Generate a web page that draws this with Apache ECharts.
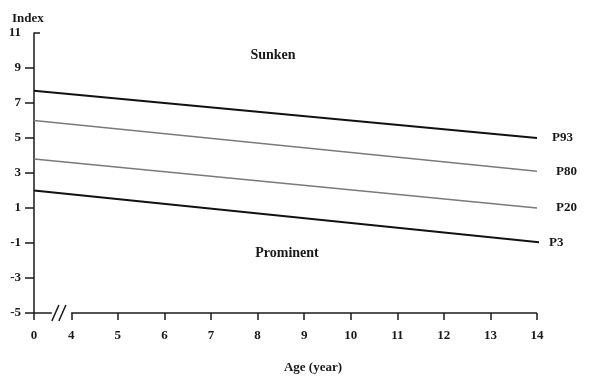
<!DOCTYPE html>
<html><head><meta charset="utf-8">
<script src="https://cdn.jsdelivr.net/npm/echarts@6/dist/echarts.min.js"></script>
<style>html,body{margin:0;padding:0;background:#fff}#c{width:596px;height:376px}</style>
</head><body><div id="c"></div>
<script>
// ---- data ----
const ages = [0, 14];
const p93 = [7.7, 5.0];
const p80 = [6.0, 3.1];
const p20 = [3.8, 1.0];
const p3Ages = [0, 14.2];
const p3 = [2.0, -1.0];
const xTickAges = [0, 4, 5, 6, 7, 8, 9, 10, 11, 12, 13, 14];
const yTicks = [-5, -3, -1, 1, 3, 5, 7, 9];
const yMin = -5, yMax = 11;

// display mapping: the 0..4 span is compressed (axis break)
const GAP = 0.8;
function toD(a) { return a <= 0 ? 0 : (a < 4 ? a / 4 * GAP : a - 4 + GAP); }
function toAge(d) { return d < GAP * 0.5 ? 0 : Math.round(d - GAP + 4); }

const FONT = 'Liberation Serif';
const chart = echarts.init(document.getElementById('c'), null, {renderer: 'canvas'});

function mk(name, xs, ys, color, width, dist) {
  return {
    type: 'line', name: name, silent: true, clip: false,
    symbol: 'none', animation: false,
    data: xs.map((a, i) => [toD(a), ys[i]]),
    lineStyle: {color: color, width: width},
    endLabel: {show: true, formatter: '{a}', distance: dist,
      fontFamily: FONT, fontWeight: 'bold', fontSize: 13, color: '#1a1a1a'}
  };
}

chart.setOption({
  backgroundColor: '#fff',
  animation: false,
  grid: {left: 34, right: 59, top: 33, bottom: 63},
  xAxis: {
    type: 'value', min: 0, max: toD(14),
    axisLine: {show: false, onZero: false},
    splitLine: {show: false},
    axisTick: {show: true, length: 7, customValues: xTickAges.map(toD),
      lineStyle: {color: '#1a1a1a', width: 1.5}},
    axisLabel: {customValues: xTickAges.map(toD), margin: 16,
      formatter: v => String(toAge(v)),
      fontFamily: FONT, fontWeight: 'bold', fontSize: 13, color: '#1a1a1a'}
  },
  yAxis: {
    type: 'value', min: yMin, max: yMax, interval: 2,
    axisLine: {show: true, onZero: false, lineStyle: {color: '#1a1a1a', width: 1.5}},
    splitLine: {show: false},
    axisTick: {show: true, length: 9, customValues: yTicks,
      lineStyle: {color: '#1a1a1a', width: 1.5}},
    axisLabel: {margin: 13, fontFamily: FONT, fontWeight: 'bold', fontSize: 13, color: '#1a1a1a'}
  },
  series: [
    mk('P93', ages, p93, '#111111', 1.9, 15),
    mk('P80', ages, p80, '#7a7a7a', 1.4, 19),
    mk('P20', ages, p20, '#7a7a7a', 1.4, 19),
    mk('P3', p3Ages, p3, '#111111', 1.9, 10)
  ]
});

// axis line with break marks, derived from the scale
const a0 = chart.convertToPixel({gridIndex: 0}, [0, yMin]);
const aMid = chart.convertToPixel({gridIndex: 0}, [GAP * 0.48, yMin]);
const a4 = chart.convertToPixel({gridIndex: 0}, [GAP, yMin]);
const aEnd = chart.convertToPixel({gridIndex: 0}, [toD(14), yMin]);
const aTop = chart.convertToPixel({gridIndex: 0}, [0, yMax]);
const ls = {stroke: '#1a1a1a', lineWidth: 1.5};
const sx = aMid[0], y0 = a0[1];
chart.setOption({
  graphic: [
    {type: 'line', shape: {x1: a0[0], y1: y0, x2: sx, y2: y0}, style: ls},
    {type: 'line', shape: {x1: a4[0], y1: y0, x2: aEnd[0], y2: y0}, style: ls},
    {type: 'line', shape: {x1: sx, y1: y0 + 8, x2: sx + 7, y2: y0 - 8}, style: ls},
    {type: 'line', shape: {x1: sx + 7, y1: y0 + 8, x2: sx + 14, y2: y0 - 8}, style: ls},
    {type: 'line', shape: {x1: aTop[0], y1: aTop[1], x2: aTop[0] + 6, y2: aTop[1]}, style: ls},
    {type: 'text', left: 12, top: 12, style: {text: 'Index', font: 'bold 13px ' + FONT, fill: '#1a1a1a'}},
    {type: 'text', x: 273, y: 55, style: {text: 'Sunken', font: 'bold 14px ' + FONT, fill: '#1a1a1a', textAlign: 'center', textVerticalAlign: 'middle'}},
    {type: 'text', x: 287, y: 253, style: {text: 'Prominent', font: 'bold 14px ' + FONT, fill: '#1a1a1a', textAlign: 'center', textVerticalAlign: 'middle'}},
    {type: 'text', x: 313, y: 368, style: {text: 'Age (year)', font: 'bold 13px ' + FONT, fill: '#1a1a1a', textAlign: 'center', textVerticalAlign: 'middle'}}
  ]
});
</script>
</body></html>
